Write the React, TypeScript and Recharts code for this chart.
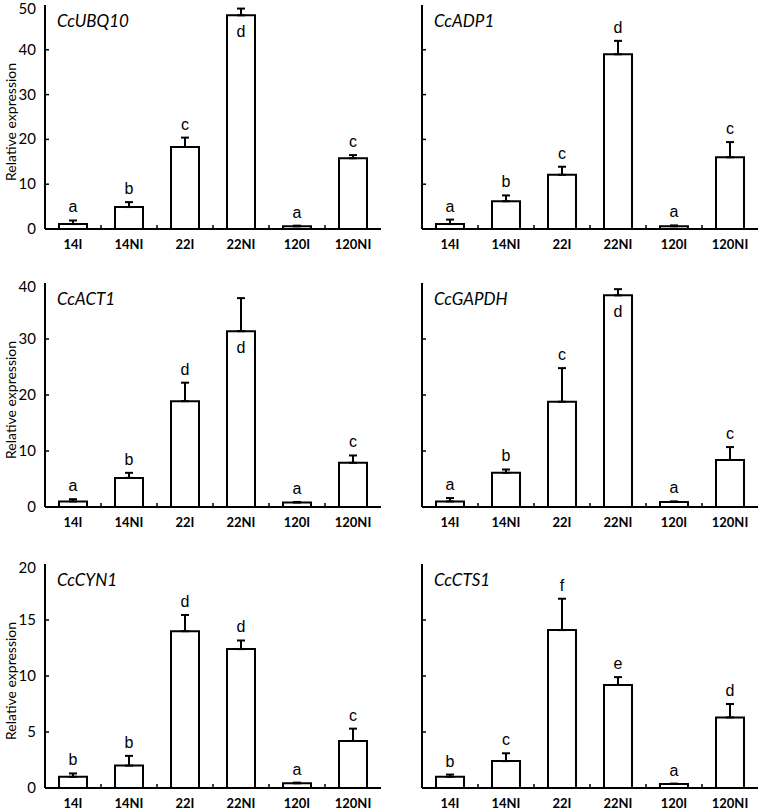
import { Bar, BarChart, ErrorBar, LabelList, XAxis, YAxis } from "recharts";

const categories = ["14I", "14NI", "22I", "22NI", "120I", "120NI"];

const ubq10Values = [1.1, 4.9, 18.3, 47.7, 0.6, 15.8];
const ubq10Errors = [0.8, 1.1, 2.1, 1.5, 0.15, 0.7];
const ubq10Letters = ["a", "b", "c", "d", "a", "c"];

const adp1Values = [1.1, 6.2, 12.1, 39.0, 0.6, 16.0];
const adp1Errors = [1.0, 1.3, 1.8, 3.0, 0.2, 3.4];
const adp1Letters = ["a", "b", "c", "d", "a", "c"];

const act1Values = [1.0, 5.2, 18.9, 31.4, 0.8, 7.9];
const act1Errors = [0.4, 0.9, 3.3, 5.9, 0.1, 1.3];
const act1Letters = ["a", "b", "d", "d", "a", "c"];

const gapdhValues = [1.0, 6.1, 18.8, 37.8, 0.9, 8.4];
const gapdhErrors = [0.6, 0.6, 6.0, 1.1, 0.1, 2.3];
const gapdhLetters = ["a", "b", "c", "d", "a", "c"];

const cyn1Values = [1.0, 2.0, 14.0, 12.4, 0.42, 4.2];
const cyn1Errors = [0.3, 0.87, 1.45, 0.77, 0.06, 1.1];
const cyn1Letters = ["b", "b", "d", "d", "a", "c"];

const cts1Values = [1.0, 2.4, 14.1, 9.2, 0.36, 6.3];
const cts1Errors = [0.2, 0.7, 2.8, 0.7, 0.03, 1.2];
const cts1Letters = ["b", "c", "f", "e", "a", "d"];

const ticks50 = [0, 10, 20, 30, 40, 50];
const ticks40 = [0, 10, 20, 30, 40];
const ticks20 = [0, 5, 10, 15, 20];

const PLOT_W = 336;
const PLOT_H = 224;
const STEP = PLOT_W / categories.length;
const CALIBRI = "Lato, 'Open Sans', sans-serif";
const ARIAL = "'Liberation Sans', Arial, sans-serif";

function buildRows(values: number[], errors: number[], letters: string[]) {
  return categories.map((cat, i) => ({
    cat,
    value: values[i],
    err: errors[i],
    errRange: [0, errors[i]],
    letter: letters[i],
  }));
}

const panels = [
  { gene: "CcUBQ10", rows: buildRows(ubq10Values, ubq10Errors, ubq10Letters), ticks: ticks50, inside: 3, left: 0, top: 0, showY: true },
  { gene: "CcADP1", rows: buildRows(adp1Values, adp1Errors, adp1Letters), ticks: ticks50, inside: -1, left: 380, top: 0, showY: false },
  { gene: "CcACT1", rows: buildRows(act1Values, act1Errors, act1Letters), ticks: ticks40, inside: 3, left: 0, top: 278, showY: true },
  { gene: "CcGAPDH", rows: buildRows(gapdhValues, gapdhErrors, gapdhLetters), ticks: ticks40, inside: 3, left: 380, top: 278, showY: false },
  { gene: "CcCYN1", rows: buildRows(cyn1Values, cyn1Errors, cyn1Letters), ticks: ticks20, inside: -1, left: 0, top: 559, showY: true },
  { gene: "CcCTS1", rows: buildRows(cts1Values, cts1Errors, cts1Letters), ticks: ticks20, inside: -1, left: 380, top: 559, showY: false },
];

function XTick(props: any) {
  const { x, y, payload, index } = props;
  return (
    <g>
      <text x={x} y={y + 20} textAnchor="middle" fontFamily={CALIBRI} fontWeight={700} fontSize={13} fill="#000">
        {payload.value}
      </text>
      {index < categories.length - 1 && (
        <line x1={x + STEP / 2} x2={x + STEP / 2} y1={y} y2={y - 4} stroke="#000" strokeWidth={1.5} />
      )}
    </g>
  );
}

function makeYTick(showLabel: boolean, maxTick: number) {
  return function YTick(props: any) {
    const { x, y, payload } = props;
    const v = payload.value;
    return (
      <g>
        {showLabel && (
          <text x={x - 9} y={y + 5} textAnchor="end" fontFamily={CALIBRI} fontSize={15} fill="#000">
            {v}
          </text>
        )}
        {v !== 0 && v !== maxTick && <line x1={x} x2={x + 4} y1={y} y2={y} stroke="#000" strokeWidth={1.5} />}
      </g>
    );
  };
}

function makeLetter(rows: any[], inside: number) {
  return function Letter(props: any) {
    const { x, y, width, height, index } = props;
    const row = rows[index];
    const cx = x + width / 2;
    let ty: number;
    if (index === inside) {
      ty = y + 22;
    } else {
      const scale = height / row.value;
      ty = y - row.err * scale - 8;
    }
    return (
      <text x={cx} y={ty} textAnchor="middle" fontFamily={ARIAL} fontSize={16} fill="#000">
        {row.letter}
      </text>
    );
  };
}

function Panel({ panel }: { panel: (typeof panels)[number] }) {
  const yWidth = panel.showY ? 45 : 42;
  const maxTick = panel.ticks[panel.ticks.length - 1];
  return (
    <div style={{ position: "absolute", left: panel.left, top: panel.top }}>
      <BarChart
        width={yWidth + PLOT_W + 2}
        height={5 + PLOT_H + 30}
        data={panel.rows}
        margin={{ top: 5, right: 2, left: 0, bottom: 0 }}
        barSize={28}
      >
        <XAxis
          dataKey="cat"
          height={30}
          tickSize={0}
          tickMargin={0}
          tickLine={false}
          axisLine={{ stroke: "#000", strokeWidth: 2 }}
          tick={<XTick />}
          interval={0}
        />
        <XAxis xAxisId="top" orientation="top" dataKey="cat" height={0} tick={false} tickLine={false} axisLine={{ stroke: "#000", strokeWidth: 2 }} />
        <YAxis
          width={yWidth}
          domain={[0, maxTick]}
          ticks={panel.ticks}
          tickSize={0}
          tickMargin={0}
          tickLine={false}
          axisLine={{ stroke: "#000", strokeWidth: 2 }}
          tick={makeYTick(panel.showY, maxTick)}
          label={
            panel.showY
              ? { value: "Relative expression", angle: -90, position: "insideLeft", dx: 6, dy: 64, style: { fontFamily: CALIBRI, fontSize: 14, fill: "#000" } }
              : undefined
          }
        />
        <YAxis yAxisId="right" orientation="right" width={0} domain={[0, 1]} tick={false} tickLine={false} axisLine={{ stroke: "#000", strokeWidth: 2 }} />
        <Bar dataKey="value" fill="#fff" stroke="#000" strokeWidth={2} isAnimationActive={false}>
          <ErrorBar dataKey="errRange" width={4} strokeWidth={2} stroke="#000" direction="y" isAnimationActive={false} />
          <LabelList dataKey="letter" content={makeLetter(panel.rows, panel.inside)} />
        </Bar>
      </BarChart>
      <div
        style={{
          position: "absolute",
          left: yWidth + 12,
          top: 11,
          fontFamily: CALIBRI,
          fontStyle: "italic",
          fontSize: 17,
          color: "#000",
          lineHeight: "20px",
        }}
      >
        {panel.gene}
      </div>
    </div>
  );
}

export default function App() {
  return (
    <div style={{ position: "absolute", left: 0, top: 0, width: 760, height: 812, overflow: "hidden", background: "#fff" }}>
      {panels.map((p) => (
        <Panel key={p.gene} panel={p} />
      ))}
    </div>
  );
}
